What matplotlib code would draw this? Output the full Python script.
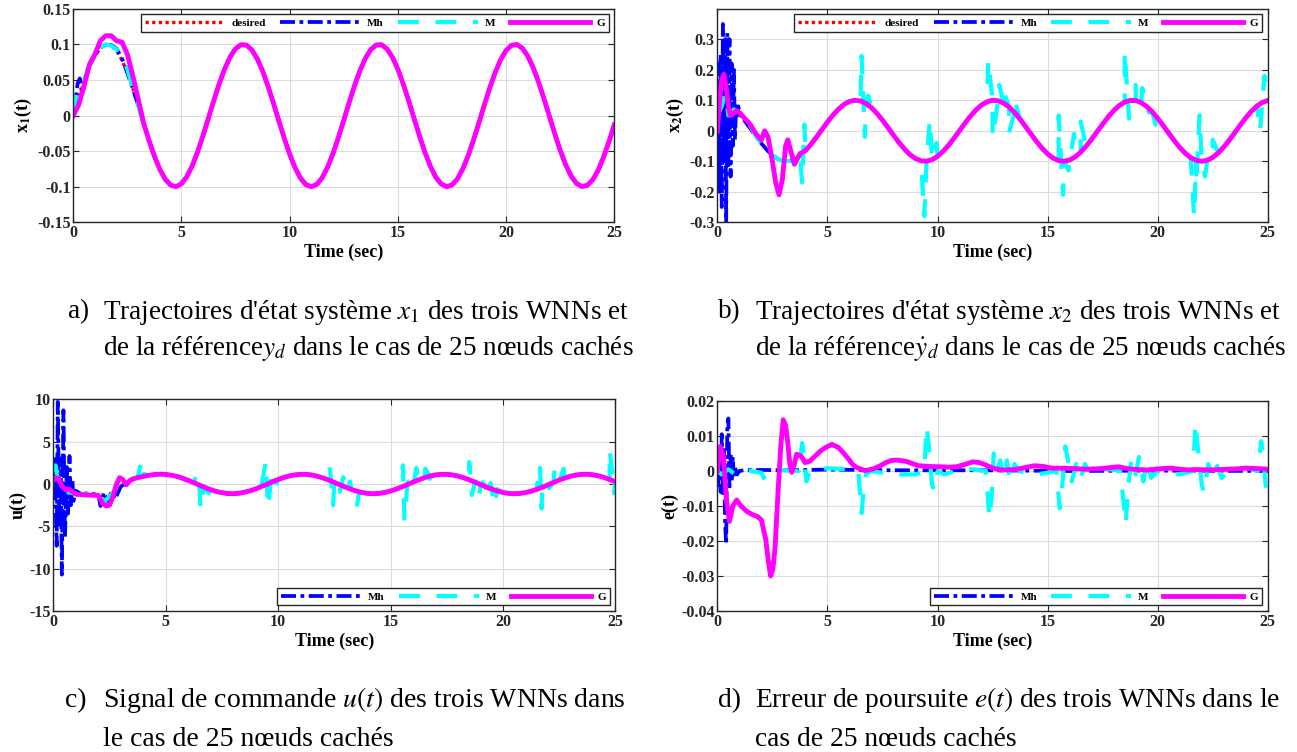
import matplotlib
matplotlib.use("Agg")
import matplotlib.pyplot as plt
import numpy as np
from matplotlib.ticker import FuncFormatter

plt.rcParams["font.family"] = ["Liberation Serif", "DejaVu Serif"]
plt.rcParams["mathtext.fontset"] = "stix"
plt.rcParams["axes.unicode_minus"] = False

# common time grid (0.25 s)
t_ref = np.linspace(0, 25, 101)

# reference trajectories
x1_ref = [0, .0247, .0479, .0682, .0841, .0949, .0997, .0984, .0909, .0778,
          .0598, .0382, .0141, -.0108, -.0351, -.0572, -.0757, -.0895, -.0978, -.0999,
          -.0959, -.0859, -.0706, -.0508, -.0279, -.0033, .0215, .0450, .0657, .0823,
          .0938, .0995, .0989, .0922, .0798, .0625, .0412, .0174, -.0075, -.0319,
          -.0544, -.0736, -.0880, -.0971, -.1000, -.0968, -.0876, -.0729, -.0537, -.0311,
          -.0066, .0183, .0420, .0632, .0804, .0926, .0991, .0994, .0935, .0818,
          .0650, .0442, .0206, -.0042, -.0288, -.0516, -.0712, -.0865, -.0961, -.1000,
          -.0976, -.0892, -.0751, -.0564, -.0342, -.0099, .0150, .0390, .0606, .0784,
          .0913, .0986, .0997, .0946, .0837, .0675, .0472, .0239, -.0009, -.0256,
          -.0487, -.0688, -.0847, -.0952, -.0998, -.0982, -.0906, -.0774, -.0591, -.0372,
          -.0132]
x2_ref = [.1000, .0969, .0878, .0732, .0540, .0315, .0071, -.0178, -.0416, -.0628,
          -.0801, -.0924, -.0990, -.0994, -.0936, -.0820, -.0654, -.0446, -.0211, .0038,
          .0284, .0512, .0709, .0862, .0960, .0999, .0977, .0893, .0754, .0569,
          .0347, .0104, -.0146, -.0386, -.0602, -.0782, -.0911, -.0985, -.0997, -.0948,
          -.0839, -.0677, -.0476, -.0243, .0004, .0252, .0483, .0685, .0844, .0950,
          .0998, .0983, .0907, .0775, .0595, .0379, .0137, -.0113, -.0355, -.0575,
          -.0760, -.0897, -.0978, -.0999, -.0958, -.0857, -.0703, -.0505, -.0276, -.0029,
          .0219, .0453, .0660, .0826, .0940, .0995, .0989, .0921, .0796, .0622,
          .0408, .0169, -.0080, -.0323, -.0548, -.0738, -.0882, -.0971, -.1000, -.0967,
          -.0873, -.0726, -.0533, -.0308, -.0062, .0187, .0424, .0634, .0806, .0928,
          .0991]
# control signal after the transient (t >= 3.75)
u_tail = [0.75, 0.9, 1.02, 1.12, 1.16,
          1.13, 1.04, 0.89, 0.68, 0.43, 0.15, -0.13, -0.41, -0.67, -0.88,
          -1.03, -1.13, -1.15, -1.10, -0.98, -0.81, -0.58, -0.31, -0.03, 0.26,
          0.53, 0.76, 0.95, 1.08, 1.14, 1.14, 1.06, 0.91, 0.71, 0.47,
          0.19, -0.10, -0.38, -0.63, -0.85, -1.02, -1.12, -1.15, -1.11, -1.00,
          -0.83, -0.61, -0.35, -0.07, 0.22, 0.49, 0.73, 0.93, 1.07, 1.14,
          1.14, 1.07, 0.94, 0.74, 0.50, 0.23, -0.06, -0.34, -0.60, -0.83,
          -1.00, -1.11, -1.15, -1.12, -1.02, -0.86, -0.64, -0.39, -0.11, 0.18,
          0.46, 0.70, 0.91, 1.05, 1.14, 1.15, 1.09, 0.96, 0.77, 0.53,
          0.27]

# (a) x1 transients
x1_g_start = [0, 0.015, 0.042, 0.072, 0.086, 0.105, 0.112, 0.112, 0.105, 0.103, 0.086, 0.056, 0.023]
x1_mh_t = [0, 0.1, 0.2, 0.3, 0.4, 0.5, 0.6, 0.75, 1.0, 1.25, 1.5, 1.75, 2.0, 2.25]
x1_mh_v = [0, 0.02, 0.045, 0.052, 0.032, 0.04, 0.06, 0.07, 0.085, 0.095, 0.1, 0.099, 0.094, 0.08]
x1_m_t = [0, 0.15, 0.3, 0.5, 0.75, 1.0, 1.25, 1.5, 1.75, 2.0, 2.25, 2.5]
x1_m_v = [0, 0.03, 0.045, 0.05, 0.07, 0.085, 0.095, 0.1, 0.098, 0.093, 0.085, 0.065]

# (b) x2 transients and spikes
x2_mh_v = [0.0, 0.22, -0.2, 0.25, -0.25, 0.35, -0.1, 0.3, -0.3, 0.32, -0.12,
           0.3, -0.15, 0.22, -0.05, 0.2, -0.03, 0.08, 0.05, 0.08, 0.06]
x2_g_t = [0, 0.1, 0.2, 0.3, 0.4, 0.5, 0.6, 0.7, 0.85, 1.0, 1.25, 1.5, 1.75, 2.0, 2.15,
          2.3, 2.5, 2.65, 2.8, 2.95, 3.1, 3.2, 3.35, 3.5, 3.75]
x2_g_v = [0, 0.1, 0.17, 0.185, 0.14, 0.08, 0.05, 0.055, 0.065, 0.06, 0.04, 0.02, -0.01,
          -0.03, 0.0, -0.02, -0.1, -0.17, -0.21, -0.16, -0.05, -0.03, -0.07, -0.11, -0.075]
x2_m_t = [0, 0.2, 0.35, 0.5, 0.75, 1.0, 1.25, 1.5]
x2_m_v = [0.05, 0.08, 0.12, 0.05, 0.07, 0.06, 0.035, 0.015]
x2_sp_t = [3.85, 3.95, 6.55, 6.7, 6.85, 9.4, 9.65, 9.95, 12.3, 12.5, 12.8, 13.0, 13.25,
           13.5, 15.5, 15.7, 15.95, 16.2, 16.5, 16.8, 18.5, 18.7, 19.0, 19.3, 19.6, 19.9,
           21.65, 21.75, 21.9, 22.15, 22.5, 22.9, 24.65, 24.85]
x2_sp_v = [-0.17, 0.02, 0.245, -0.02, 0.115, -0.28, 0.035, -0.04, 0.23, -0.02, 0.15,
           0.13, -0.005, 0.1, 0.05, -0.21, -0.13, -0.01, 0.03, -0.03, 0.26, 0.04, 0.15,
           0.14, 0.06, 0.02, -0.28, -0.17, 0.05, -0.15, -0.03, -0.05, 0.0, 0.18]

# (c) control signal transients and spikes
u_g_t = [0, 0.1, 0.25, 0.4, 0.55, 0.7, 0.85, 1.0, 1.5, 2.0, 2.2, 2.35, 2.5, 2.65, 2.8,
         2.95, 3.1, 3.25, 3.4, 3.55]
u_g_v = [0.45, 0.75, 0.55, -0.3, -0.7, -0.6, -0.9, -1.2, -1.3, -1.35, -2.3, -2.6, -2.5,
         -1.5, -0.1, 0.75, 0.5, -0.1, 0.4, 0.6]
u_mh_t = [0, 0.05, 0.1, 0.15, 0.2, 0.27, 0.33, 0.38, 0.45, 0.52, 0.6, 0.65, 0.72, 0.78,
          0.85, 0.9, 1.0, 1.25, 1.5, 1.75, 2.0, 2.1, 2.25, 2.4, 2.6, 2.75, 3.0, 3.25, 3.5]
u_mh_v = [0, 3.2, -2.0, -7.3, 9.7, -5.0, 3.0, -10.7, 8.7, -6.3, 2.0, -3.5, 3.3, -2.5,
          0.5, -2.0, -0.8, -1.2, -1.1, -1.2, -1.2, -2.6, -1.0, -2.0, -0.9, -1.8, -0.3, 0.1, 0.5]
u_m_t = [0, 0.1, 0.2, 0.35, 0.5, 0.75, 1.0, 1.5, 2.0, 2.3, 2.6, 3.0, 3.5]
u_m_v = [1.5, 2.2, 0.5, -0.5, -1.0, -1.0, -1.2, -1.2, -1.3, -2.0, -1.2, 0.2, 0.6]
u_sp_t = [3.9, 4.0, 6.4, 6.55, 6.7, 6.9, 9.45, 9.55, 9.7, 9.85, 12.3, 12.45, 12.6, 12.75,
          12.9, 13.05, 13.2, 13.5, 13.6, 15.55, 15.62, 15.8, 16.0, 16.15, 16.35, 16.55,
          16.75, 16.9, 18.5, 18.62, 18.8, 18.95, 19.1, 19.25, 19.45, 19.6, 19.75, 21.65,
          21.72, 21.9, 22.05, 22.3, 22.5, 22.7, 22.9, 23.1, 24.3, 24.75, 24.85, 24.95]
u_sp_v = [2.4, 1.2, 1.3, -2.9, -0.3, -1.1, 2.6, -2.7, 0.8, -0.5, 2.2, -2.5, 0.6, -0.9,
          0.8, -1.0, 0.3, -2.7, -1.0, 2.2, -4.1, 0.3, -0.5, 1.9, 0.2, 1.8, 0.6, 1.5, 2.6,
          -1.3, 0.3, -1.5, 0.2, -1.7, 0.1, -2.5, -0.6, 2.2, -2.9, 0.2, -0.5, 1.7, 0.3, 1.8,
          0.4, 1.5, 0.3, 4.0, 1.7, -1.1]

# (d) tracking error
e_g_t = [0, 0.13, 0.28, 0.41, 0.55, 0.7, 0.88, 1.07, 1.35, 1.6, 1.82, 2.0, 2.2, 2.32,
         2.42, 2.52, 2.62, 2.76, 2.88, 2.99, 3.1, 3.2, 3.29, 3.38, 3.5, 3.6, 3.7, 3.8,
         3.98, 4.2, 4.45, 4.7, 4.92, 5.2, 5.5, 5.75, 5.96, 6.15, 6.33, 6.7, 7.08, 7.4,
         7.65, 7.9, 8.2, 8.6, 8.9, 9.15, 9.6, 10.1, 10.5, 10.85, 11.2, 11.6, 11.9, 12.16,
         12.5, 12.9, 13.5, 14.0, 14.4, 14.8, 15.2, 15.7, 16.2, 16.7, 17.2, 17.6, 18.2,
         18.7, 19.1, 19.5, 19.9, 20.2, 20.6, 21.0, 21.4, 21.8, 22.3, 22.8, 23.25, 23.6,
         24.0, 24.5, 25.0]
e_g_v = [0, 0.007, 0.004, -0.0083, -0.0144, -0.01, -0.0083, -0.01, -0.0116, -0.0125,
         -0.013, -0.014, -0.0196, -0.026, -0.030, -0.028, -0.022, -0.0055, 0.007, 0.0146,
         0.013, 0.008, 0.002, -0.0004, 0.002, 0.0048, 0.0045, 0.0043, 0.0024, 0.0028,
         0.0043, 0.0058, 0.0067, 0.0076, 0.0067, 0.005, 0.0034, 0.0018, 0.001, 0.0001,
         0.0006, 0.0015, 0.0024, 0.003, 0.0031, 0.0027, 0.002, 0.0015, 0.0013, 0.0012,
         0.0011, 0.0012, 0.0018, 0.0026, 0.0024, 0.0018, 0.0008, 0.0003, 0.0004, 0.001,
         0.0015, 0.0013, 0.0008, 0.0008, 0.0007, 0.0005, 0.0006, 0.0008, 0.0012, 0.0006,
         0.0004, 0.0003, 0.0005, 0.0007, 0.0008, 0.0005, 0.0003, 0.0004, 0.0003, 0.0004,
         0.0005, 0.0006, 0.0008, 0.0007, 0.0005]
e_mh_t = [0, 0.05, 0.1, 0.15, 0.2, 0.25, 0.3, 0.35, 0.4, 0.45, 0.5, 0.55, 0.6, 0.65, 0.7,
          0.75, 0.8, 0.9, 1.0, 1.2, 2.0, 3.0, 5.0, 8.0, 12.0, 16.0, 20.0, 25.0]
e_mh_v = [0, -0.004, 0.006, -0.006, 0.0105, -0.007, 0.006, -0.015, -0.021, 0.012, 0.015,
          -0.005, 0.005, -0.003, 0.004, -0.002, 0.001, -0.001, 0.0, 0.0002, 0.0003, 0.0002,
          0.0004, 0.0002, 0.0002, 0.0, 0.0001, 0.0]
e_m_t = [0, 0.2, 0.5, 0.8, 1.0, 1.5, 2.0, 2.1, 2.3, 3.0, 3.7, 3.85, 3.95, 4.05, 4.2, 5.0,
         5.8, 6.4, 6.55, 6.65, 6.75, 7.0, 8.0, 9.0, 9.4, 9.5, 9.6, 9.75, 9.85, 10.0, 10.3,
         11.2, 12.2, 12.35, 12.45, 12.55, 12.7, 12.85, 13.0, 13.15, 13.3, 13.5, 13.7, 14.5,
         15.4, 15.55, 15.65, 15.8, 15.9, 16.1, 16.3, 16.5, 16.7, 16.9, 17.5, 18.3, 18.55,
         18.65, 18.8, 19.0, 19.15, 19.35, 19.5, 19.7, 20.0, 21.0, 21.6, 21.72, 21.8, 22.0,
         22.1, 22.3, 22.5, 22.7, 22.9, 23.2, 24.0, 24.55, 24.7, 24.78, 24.9, 25.0]
e_m_v = [0, -0.001, 0.0005, -0.001, 0.0, 0.0, -0.0005, -0.002, 0.0, 0.0002, 0.0, 0.008,
         0.004, -0.003, 0.0, 0.0008, 0.0005, 0.0, -0.012, -0.005, -0.001, 0.0, -0.001,
         -0.001, 0.0, 0.0127, 0.0076, -0.004, -0.0055, 0.0, -0.001, 0.0008, 0.0, -0.0135,
         -0.008, 0.005, 0.0, 0.003, -0.002, 0.003, -0.003, 0.002, 0.0, -0.001, 0.0, -0.0107,
         -0.0055, 0.007, 0.0038, -0.003, 0.002, -0.002, 0.002, -0.001, 0.0008, 0.0, -0.015,
         -0.0055, 0.0034, -0.001, 0.004, -0.003, 0.003, -0.002, 0.0, -0.001, 0.0, 0.0137,
         0.008, -0.004, -0.006, 0.002, -0.002, 0.0015, -0.002, 0.0, 0.001, 0.0, 0.0085,
         0.0052, -0.004, -0.0074]

captions = {
    "a)": ["Trajectoires d'état système $x_1$ des trois WNNs et",
           "de la référence$y_d$ dans le cas de 25 nœuds cachés"],
    "b)": ["Trajectoires d'état système $x_2$ des trois WNNs et",
           "de la référence$\\dot{y}_d$ dans le cas de 25 nœuds cachés"],
    "c)": ["Signal de commande $u(t)$ des trois WNNs dans",
           "le cas de 25 nœuds cachés"],
    "d)": ["Erreur de poursuite $e(t)$ des trois WNNs dans le",
           "cas de 25 nœuds cachés"],
}


def merge(t_base, v_base, t_sp, v_sp):
    t = np.concatenate([t_base, t_sp])
    v = np.concatenate([v_base, v_sp])
    k = np.argsort(t, kind="stable")
    return t[k], v[k]


st_des = dict(color="#ff0000", lw=2.4, ls=(0, (1, 1)), label="desired")
st_mh = dict(color="#0000ff", lw=2.7, ls=(0, (4, 1.2, 1, 1.2)), label="Mh")
st_m = dict(color="#00ffff", lw=3.0, ls=(0, (5, 4)), label="M")
st_g = dict(color="#ff00ff", lw=3.5, ls="-", label="G")


def style(ax, ylim, yticks, ylabel, legloc):
    ax.set_xlim(0, 25)
    ax.set_ylim(*ylim)
    ax.set_xticks(range(0, 26, 5))
    ax.set_yticks(yticks)
    ax.yaxis.set_major_formatter(FuncFormatter(lambda v, p: f"{v:g}"))
    ax.grid(True, color="#dcdcdc", lw=0.8)
    ax.set_axisbelow(True)
    ax.tick_params(direction="in", top=True, right=True, length=4, labelsize=11.5,
                   colors="#262626", width=0.8, pad=2)
    for lab in ax.get_xticklabels() + ax.get_yticklabels():
        lab.set_fontweight("bold")
    for s in ax.spines.values():
        s.set_color("#262626")
        s.set_linewidth(1.0)
    ax.set_xlabel("Time (sec)", fontsize=13, fontweight="bold", labelpad=2)
    ax.set_ylabel(ylabel, fontsize=13, fontweight="bold", labelpad=2)
    leg = ax.legend(ncol=4, loc=legloc, prop={"size": 8, "weight": "bold"},
                    handlelength=7.2, handletextpad=0.6, columnspacing=1.3,
                    fancybox=False, edgecolor="#262626", framealpha=1,
                    borderpad=0.35, borderaxespad=0.5)
    leg.get_frame().set_linewidth(1.0)


fig = plt.figure(figsize=(12.97, 7.52), dpi=100)
ax_a = fig.add_axes([0.0565, 0.7044, 0.4171, 0.2840])
ax_b = fig.add_axes([0.5531, 0.7044, 0.4244, 0.2840])
ax_c = fig.add_axes([0.0411, 0.1875, 0.4333, 0.2815])
ax_d = fig.add_axes([0.5531, 0.1875, 0.4244, 0.2793])

# (a)
ax_a.plot(t_ref, x1_ref, **st_des)
ax_a.plot(np.concatenate([x1_mh_t, t_ref[10:]]), x1_mh_v + x1_ref[10:], **st_mh)
ax_a.plot(np.concatenate([x1_m_t, t_ref[11:]]), x1_m_v + x1_ref[11:], **st_m)
ax_a.plot(t_ref, x1_g_start + x1_ref[13:], **st_g)
style(ax_a, (-0.15, 0.15), [-0.15, -0.1, -0.05, 0, 0.05, 0.1, 0.15],
      r"x$_\mathbf{1}$(t)", "upper right")

# (b)
ax_b.plot(t_ref, x2_ref, **st_des)
ax_b.plot(np.concatenate([np.linspace(0, 1, 21), t_ref[5:]]), x2_mh_v + x2_ref[5:], **st_mh)
tb, vb = merge(np.concatenate([x2_m_t, t_ref[7:]]), x2_m_v + x2_ref[7:], x2_sp_t, x2_sp_v)
ax_b.plot(tb, vb, **st_m)
ax_b.plot(np.concatenate([x2_g_t, t_ref[16:]]), x2_g_v + x2_ref[16:], **st_g)
style(ax_b, (-0.3, 0.4), [-0.3, -0.2, -0.1, 0, 0.1, 0.2, 0.3],
      r"x$_\mathbf{2}$(t)", "upper right")

# (c)
ax_c.plot(np.concatenate([u_mh_t, t_ref[15:]]), u_mh_v + u_tail, **st_mh)
tc, vc = merge(np.concatenate([u_m_t, t_ref[15:]]), u_m_v + u_tail, u_sp_t, u_sp_v)
ax_c.plot(tc, vc, **st_m)
ax_c.plot(np.concatenate([u_g_t, t_ref[15:]]), u_g_v + u_tail, **st_g)
style(ax_c, (-15, 10), [-15, -10, -5, 0, 5, 10], "u(t)", "lower right")

# (d)
ax_d.plot(e_mh_t, e_mh_v, **st_mh)
ax_d.plot(e_m_t, e_m_v, **st_m)
ax_d.plot(e_g_t, e_g_v, **st_g)
style(ax_d, (-0.04, 0.02), [-0.04, -0.03, -0.02, -0.01, 0, 0.01, 0.02], "e(t)", "lower right")

# captions
cap_pos = {"a)": (0.0524, 0.0794, 0.585, 0.536, 19.5), "b)": (0.5536, 0.5821, 0.585, 0.536, 19.5),
           "c)": (0.0500, 0.0794, 0.069, 0.016, 20), "d)": (0.5536, 0.5821, 0.069, 0.016, 19.8)}
for key, lines in captions.items():
    xl, xt, y1, y2, fs = cap_pos[key]
    fig.text(xl, y1, key, fontsize=fs, va="center")
    fig.text(xt, y1, lines[0], fontsize=fs, va="center")
    fig.text(xt, y2, lines[1], fontsize=fs, va="center")

fig.savefig("out.png", dpi=100)
